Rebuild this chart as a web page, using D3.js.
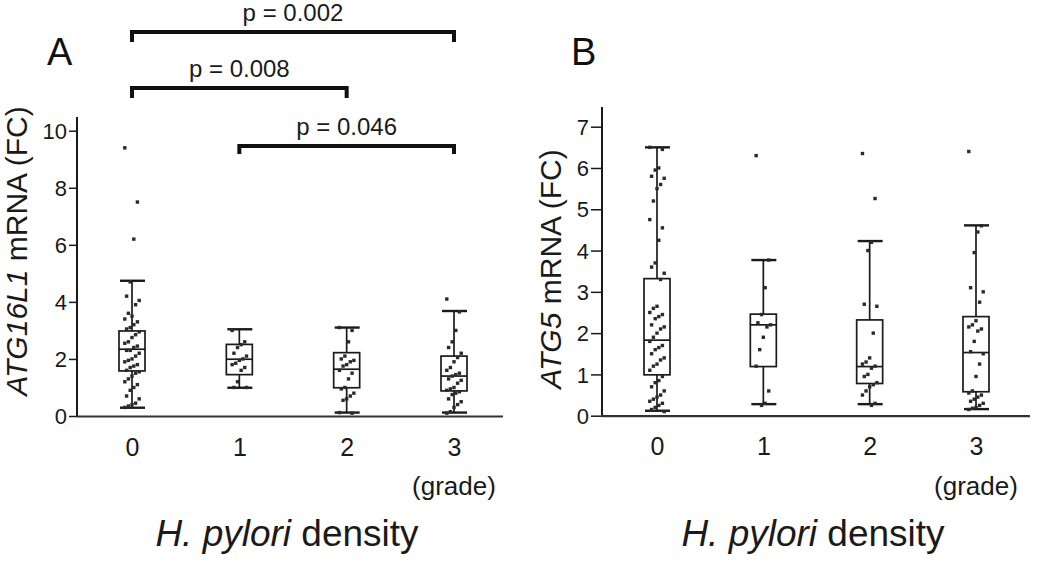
<!DOCTYPE html>
<html>
<head>
<meta charset="utf-8">
<script src="https://cdn.jsdelivr.net/npm/d3@7"></script>
<style>
  html, body { margin: 0; padding: 0; background: #fff; }
  svg { display: block; font-family: "Liberation Sans", Arial, sans-serif; }
</style>
</head>
<body>
<svg id="chart" width="1050" height="561"></svg>
<script>
// ---------- DATA ----------
const categories = ["0", "1", "2", "3"];

// Panel A: ATG16L1 mRNA (FC); box stats [whiskerLow, q1, median, q3, whiskerHigh]
const boxA = [
  [0.29, 1.58, 2.34, 2.98, 4.74],
  [0.99, 1.45, 1.99, 2.51, 3.04],
  [0.12, 0.99, 1.64, 2.22, 3.10],
  [0.12, 0.88, 1.40, 2.10, 3.68]
];
const pointsA0 = [9.4, 7.5, 6.2, 4.7, 4.2, 4.05, 3.9, 3.5, 3.6, 3.4, 3.3, 3.2, 3.1, 3.05, 2.95, 2.85, 2.75, 2.6, 2.55, 2.45, 2.4, 2.3, 2.3, 2.2, 2.1, 2.0, 1.95, 1.9, 1.8, 1.75, 1.7, 1.6, 1.55, 1.5, 1.4, 1.3, 1.2, 1.1, 1.0, 0.9, 0.7, 0.6, 0.45, 0.4, 0.35, 0.3];
const pointsA1 = [3.0, 2.6, 2.5, 2.4, 2.2, 2.1, 2.0, 1.95, 1.85, 1.8, 1.7, 1.6, 1.2, 1.0, 1.0];
const pointsA2 = [3.1, 3.0, 2.6, 2.1, 2.0, 1.95, 1.9, 1.8, 1.75, 1.6, 1.5, 1.3, 1.0, 0.95, 0.8, 0.7, 0.6, 0.55, 0.12, 0.1];
const pointsA3 = [4.1, 3.65, 3.0, 2.6, 2.4, 2.2, 2.05, 1.9, 1.7, 1.6, 1.5, 1.45, 1.4, 1.3, 1.25, 1.15, 1.0, 0.95, 0.9, 0.85, 0.8, 0.75, 0.6, 0.5, 0.4, 0.3, 0.15, 0.1];
const yTicksA = [0, 2, 4, 6, 8, 10];

// Panel B: ATG5 mRNA (FC)
const boxB = [
  [0.12, 0.99, 1.83, 3.32, 6.50],
  [0.28, 1.19, 2.20, 2.46, 3.77],
  [0.28, 0.78, 1.19, 2.32, 4.23],
  [0.16, 0.58, 1.53, 2.40, 4.61]
];
const pointsB0 = [6.5, 6.45, 6.0, 5.95, 5.8, 5.75, 5.6, 5.5, 5.2, 4.75, 4.55, 4.25, 3.7, 3.6, 3.45, 3.3, 2.65, 2.6, 2.5, 2.45, 2.4, 2.35, 2.2, 2.15, 2.1, 2.0, 1.9, 1.8, 1.7, 1.65, 1.6, 1.5, 1.4, 1.35, 1.25, 1.2, 1.1, 0.95, 0.85, 0.8, 0.7, 0.6, 0.5, 0.45, 0.4, 0.35, 0.3, 0.25, 0.2, 0.15, 0.1];
const pointsB1 = [6.3, 3.77, 3.1, 2.45, 2.25, 2.2, 2.15, 1.9, 1.6, 1.2, 0.6, 0.3, 0.25];
const pointsB2 = [6.35, 5.26, 4.2, 4.0, 2.7, 2.65, 2.0, 1.4, 1.3, 1.25, 1.2, 1.15, 1.0, 0.95, 0.8, 0.75, 0.7, 0.6, 0.5, 0.3, 0.25];
const pointsB3 = [6.4, 4.6, 4.45, 3.95, 3.1, 3.0, 2.75, 2.3, 2.2, 2.15, 2.1, 2.05, 1.8, 1.55, 1.5, 1.25, 0.95, 0.6, 0.55, 0.5, 0.45, 0.4, 0.35, 0.3, 0.25, 0.2, 0.18, 0.15];
const yTicksB = [0, 1, 2, 3, 4, 5, 6, 7];

// Significance brackets for panel A: [from category, to category, label]
const bracketsA = [
  ["0", "3", "p = 0.002"],
  ["0", "2", "p = 0.008"],
  ["1", "3", "p = 0.046"]
];

// ---------- DRAWING ----------
const svg = d3.select("#chart");
const ink = "#1a1a1a";
const fontFam = "Liberation Sans, Arial, sans-serif";

function panel(cfg) {
  const g = svg.append("g");
  const x = d3.scalePoint().domain(categories).range(cfg.xRange);
  const y = d3.scaleLinear().domain(cfg.yDomain).range(cfg.yRange);

  // y axis
  const yAxis = d3.axisLeft(y).tickValues(cfg.yTicks).tickSize(cfg.tickLen).tickPadding(2).tickFormat(d3.format("d"));
  const ya = g.append("g").attr("transform", `translate(${cfg.axisX},0)`).call(yAxis);
  ya.select(".domain").remove();
  ya.selectAll(".tick line").attr("stroke", ink).attr("stroke-width", 1.5);
  ya.selectAll(".tick text").attr("font-size", 22).attr("fill", "#1a1a1a")
    .attr("font-family", fontFam).attr("dy", "0.35em");
  g.append("line").attr("x1", cfg.axisX).attr("x2", cfg.axisX)
    .attr("y1", y(0)).attr("y2", cfg.axisTop).attr("stroke", ink).attr("stroke-width", 2);
  // x axis line
  g.append("line").attr("x1", cfg.axisX).attr("x2", cfg.axisRight)
    .attr("y1", y(0) + 0.5).attr("y2", y(0) + 0.5).attr("stroke", "#333").attr("stroke-width", 2.2);

  // x tick labels
  const xAxis = d3.axisBottom(x).tickSize(0).tickPadding(0);
  const xa = g.append("g").attr("transform", `translate(0,${y(0) + 22})`).call(xAxis);
  xa.select(".domain").remove();
  xa.selectAll(".tick text").attr("font-size", 25).attr("fill", "#1a1a1a")
    .attr("font-family", fontFam);

  // boxes
  const bw = 26;
  cfg.boxes.forEach((b, i) => {
    const cx = x(categories[i]);
    const [lo, q1, med, q3, hi] = b;
    g.append("line").attr("x1", cx).attr("x2", cx).attr("y1", y(hi)).attr("y2", y(lo))
      .attr("stroke", ink).attr("stroke-width", 1.7);
    g.append("rect").attr("x", cx - bw / 2).attr("y", y(q3)).attr("width", bw).attr("height", y(q1) - y(q3))
      .attr("fill", "#fff").attr("stroke", ink).attr("stroke-width", 1.7);
    g.append("line").attr("x1", cx - bw / 2).attr("x2", cx + bw / 2).attr("y1", y(med)).attr("y2", y(med))
      .attr("stroke", ink).attr("stroke-width", 1.7);
    [lo, hi].forEach(v => {
      g.append("line").attr("x1", cx - bw / 2 + 1).attr("x2", cx + bw / 2).attr("y1", y(v)).attr("y2", y(v))
        .attr("stroke", ink).attr("stroke-width", 2.4);
    });
  });

  // points (deterministic small jitter)
  cfg.points.forEach((pts, i) => {
    const cx = x(categories[i]);
    g.selectAll(null).data(pts).enter().append("rect")
      .attr("x", (d, j) => cx + (((j * 7) % 9) - 4) * 1.8 - 1.7)
      .attr("y", d => y(d) - 1.7)
      .attr("width", 3.4).attr("height", 3.4)
      .attr("fill", "#2a2a2a");
  });

  // y title
  const yt = g.append("text")
    .attr("transform", `translate(${cfg.titleX},${cfg.titleY}) rotate(-90)`)
    .attr("text-anchor", "middle").attr("font-size", 30).attr("fill", "#1a1a1a");
  yt.append("tspan").attr("font-style", "italic").text(cfg.gene);
  yt.append("tspan").text(" mRNA (FC)");

  // (grade)
  g.append("text").attr("x", x("3")).attr("y", y(0) + 79).attr("text-anchor", "middle")
    .attr("font-size", 26).attr("fill", "#1a1a1a").text("(grade)");

  // x title
  const xt = g.append("text").attr("x", cfg.xTitleX).attr("y", 546).attr("text-anchor", "middle")
    .attr("font-size", 37).attr("fill", "#1a1a1a");
  xt.append("tspan").attr("font-style", "italic").text("H. pylori");
  xt.append("tspan").text(" density");

  // panel letter
  g.append("text").attr("x", cfg.letterX).attr("y", 65).attr("font-size", 38).attr("fill", "#111").text(cfg.letter);

  return { g, x, y };
}

const A = panel({
  xRange: [132, 454], yDomain: [0, 10], yRange: [416, 130.7], yTicks: yTicksA,
  axisX: 77, axisTop: 117, axisRight: 503, tickLen: 8,
  boxes: boxA, points: [pointsA0, pointsA1, pointsA2, pointsA3],
  gene: "ATG16L1", titleX: 27, titleY: 251, xTitleX: 287, letter: "A", letterX: 47
});
const B = panel({
  xRange: [657, 976], yDomain: [0, 7], yRange: [415.7, 126.7], yTicks: yTicksB,
  axisX: 602, axisTop: 107, axisRight: 1030, tickLen: 11,
  boxes: boxB, points: [pointsB0, pointsB1, pointsB2, pointsB3],
  gene: "ATG5", titleX: 561, titleY: 269, xTitleX: 813, letter: "B", letterX: 571
});

// brackets
const bracketY = [32, 88, 146];
const bracketDrop = [10, 10, 8];
bracketsA.forEach((b, i) => {
  const x1 = A.x(b[0]), x2 = A.x(b[1]);
  const yy = bracketY[i];
  A.g.append("path")
    .attr("d", `M${x1},${yy + bracketDrop[i]}V${yy}H${x2}V${yy + bracketDrop[i]}`)
    .attr("fill", "none").attr("stroke", "#111").attr("stroke-width", 4);
  A.g.append("text").attr("x", (x1 + x2) / 2).attr("y", yy - 11).attr("text-anchor", "middle")
    .attr("font-size", 24).attr("fill", "#1a1a1a").text(b[2]);
});
</script>
</body>
</html>
